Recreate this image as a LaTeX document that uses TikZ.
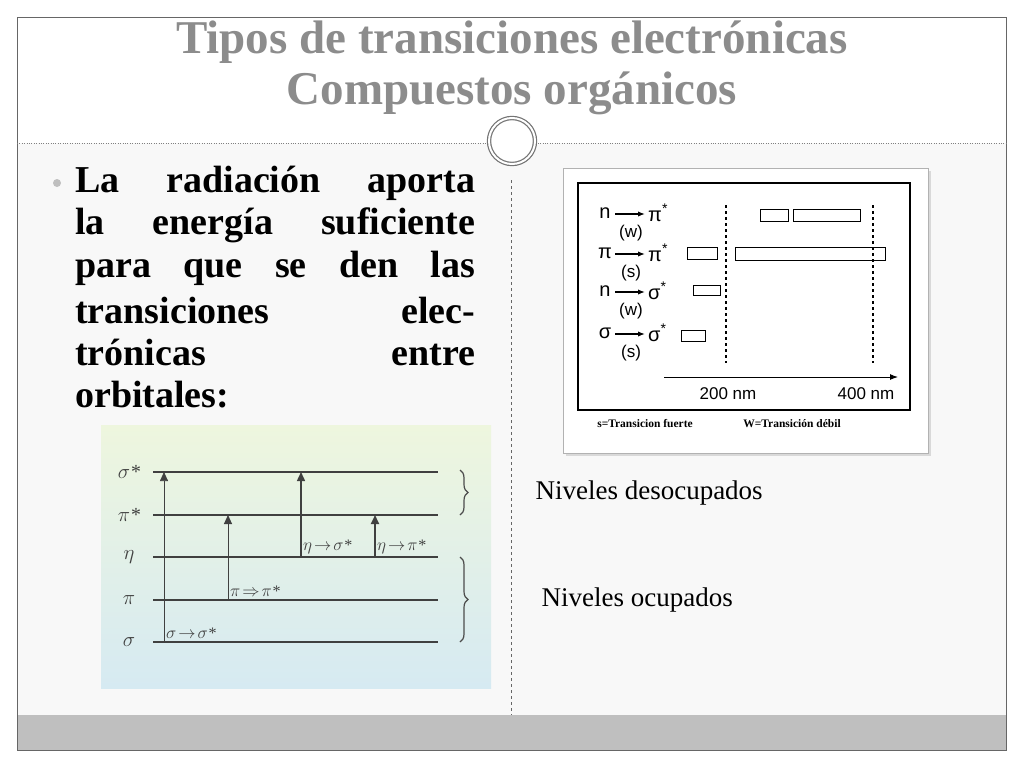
\documentclass[tikz,border=0pt]{standalone}
\usepackage{fontspec}
\setmainfont{Liberation Serif}
\newfontfamily\sansf{Liberation Sans}
\usetikzlibrary{decorations.pathreplacing,arrows.meta}
\definecolor{titlegray}{HTML}{8C8C8C}
\definecolor{bodybg}{HTML}{F8F8F8}
\definecolor{barg}{HTML}{BFBFBF}
\definecolor{topc}{HTML}{EEF6DE}
\definecolor{botc}{HTML}{D6EAF2}
\begin{document}
\begin{tikzpicture}[x=1pt,y=-1pt,
  up/.style={line width=1pt,draw=black!75,-{Triangle[length=9pt,width=8pt]}},
  glab/.style={font=\itshape\fontsize{20}{20}\selectfont,text=black!75},
  tlab/.style={font=\itshape\fontsize{16}{16}\selectfont,text=black!75,inner sep=1pt},
  cl/.style={font=\sansf\fontsize{20}{20}\selectfont},
  cs/.style={font=\sansf\fontsize{17}{17}\selectfont},
  bx/.style={draw,line width=1pt},
  bl/.style={font=\bfseries\fontsize{38}{38}\selectfont,anchor=west,inner sep=0pt}]
\useasboundingbox (0,0) rectangle (1024,768);
\fill[white] (0,0) rectangle (1024,768);
\fill[bodybg] (17,143) rectangle (1006,715);
\fill[barg] (17,715) rectangle (1006,750);
\draw[black!60] (17,17) rectangle (1006,750);
\draw[black!50,dotted] (17,143) -- (1006,143);
\draw[black!60,dashed] (511,180) -- (511,715);
\node[circle,fill=white,draw=black!55,line width=1.2pt,double=white,double distance=2pt,minimum size=46pt] (orn) at (512,141) {};
% title
\node[font=\bfseries\fontsize{47}{47}\selectfont,text=titlegray,anchor=base] (t1) at (512,54) {Tipos de transiciones electrónicas};
\node[font=\bfseries\fontsize{47}{47}\selectfont,text=titlegray,anchor=base] (t2) at (512,104) {Compuestos orgánicos};
% bullet text
\fill[black!25] (57,183) circle (4);
\node[bl] (l1) at (75,183) {\makebox[400pt][s]{La radiación aporta}};
\node[bl] (l2) at (75,225) {\makebox[400pt][s]{la energía suficiente}};
\node[bl] (l3) at (75,268) {\makebox[400pt][s]{para que se den las}};
\node[bl] (l4) at (75,310) {\makebox[400pt][s]{transiciones elec-}};
\node[bl] (l5) at (75,352) {\makebox[400pt][s]{trónicas entre}};
\node[bl] (l6) at (75,395) {orbitales:};
% energy diagram
\shade[top color=topc,bottom color=botc] (101,425) rectangle (491,688);
\foreach \n/\y/\w in {ss/472/1.2pt,ps/515/2pt,et/557/1.2pt,pi/600/1.6pt,sg/642/1.2pt}
  \draw[line width=\w,black!75] (153,\y) -- (438,\y) coordinate (\n);
\node[glab] at (129,472) {$\sigma$*};
\node[glab] at (129,515) {$\pi$*};
\node[glab] at (129,557) {$\eta$};
\node[glab] at (129,600) {$\pi$};
\node[glab] at (129,642) {$\sigma$};
\draw[up,line width=0.7pt] (164,642) -- (164,472);
\draw[up] (228,600) -- (228,515);
\draw[up,line width=1.5pt] (301,557) -- (301,472);
\draw[up,line width=2pt] (375,557) -- (375,515);
\node[tlab,anchor=south west] at (165,640) {$\sigma\!\rightarrow\!\sigma$*};
\node[tlab,anchor=south west] at (229,598) {$\pi\!\Rightarrow\!\pi$*};
\node[tlab,anchor=south west] at (302,555) {$\eta\!\rightarrow\!\sigma$*};
\node[tlab,anchor=south west] at (376,555) {$\eta\!\rightarrow\!\pi$*};
\draw[decorate,decoration={brace,amplitude=8pt},line width=1.2pt,black!70] (460,470) -- (460,515);
\draw[decorate,decoration={brace,amplitude=8pt},line width=1.2pt,black!70] (460,557) -- (460,642);
% chart
\fill[black!15] (566,171) rectangle (931,456);
\fill[white,draw=black!30] (563,168) rectangle (928,453);
\draw[line width=1.3pt] (578,183) rectangle (910,410);
\foreach \y/\a/\b/\s in {213/n/π\textsuperscript{*}/w,253/π/π\textsuperscript{*}/s,291/n/σ\textsuperscript{*}/w,333/σ/σ\textsuperscript{*}/s}{
  \node[cl] at (605,\y) {\a};
  \draw[-{Latex[length=7pt]},line width=1.2pt] (615,\y+1) -- (645,\y+1);
  \node[cl,anchor=west,inner sep=0pt] at (648,\y) {\b};
  \node[cs] at (631,\y+20) {(\s)};
}
\draw[dashed,line width=1.3pt] (726,205) -- (726,363);
\draw[dashed,line width=1.3pt] (873,205) -- (873,363);
\draw[bx] (760,209) rectangle (788,221);
\draw[bx] (793,209) rectangle (860,221);
\draw[bx] (687,247) rectangle (717,259);
\draw[bx] (735,247) rectangle (885,260);
\draw[bx] (693,285) rectangle (720,295);
\draw[bx] (681,330) rectangle (705,341);
\draw[-{Latex[length=8pt]},line width=1pt] (664,377) -- (898,377);
\node[cs] at (728,394) {200 nm};
\node[cs] at (866,394) {400 nm};
\node[font=\bfseries\fontsize{11.5}{11.5}\selectfont] at (645,424) {s=Transicion fuerte};
\node[font=\bfseries\fontsize{11.5}{11.5}\selectfont] at (792,424) {W=Transición débil};
% right labels
\node[font=\fontsize{27}{27}\selectfont,anchor=west] at (532,493) {Niveles desocupados};
\node[font=\fontsize{27}{27}\selectfont,anchor=west] at (538,600) {Niveles ocupados};
\end{tikzpicture}
\end{document}
